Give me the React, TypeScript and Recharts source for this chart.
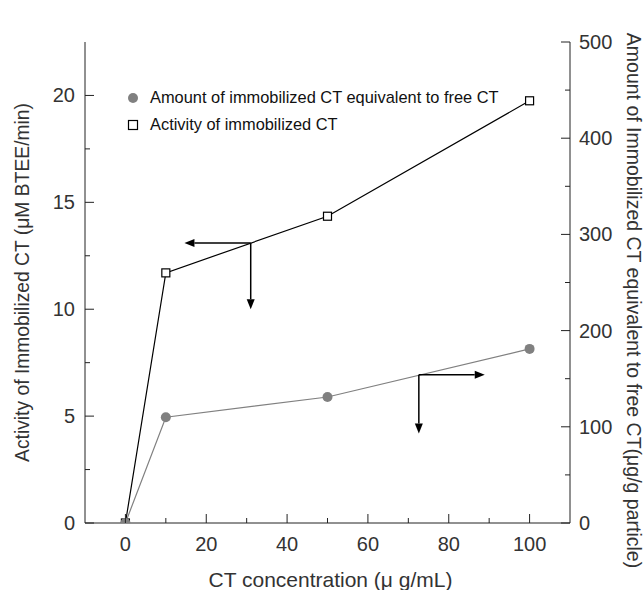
import React from 'react';
import { ComposedChart, Line, XAxis, YAxis, Legend, ReferenceLine, Label } from 'recharts';

// CT concentration (µg/mL)
const concentrations = [0, 10, 50, 100];
// activity of immobilized CT (µM BTEE/min), left axis
const activity = [0, 11.7, 14.35, 19.75];
// immobilized CT equivalent to free CT (µg/g particle), right axis
const amountImmobilized = [0, 110, 131, 181];

const xTicks = [0, 10, 20, 30, 40, 50, 60, 70, 80, 90, 100];
const leftTicks = [0, 2.5, 5, 7.5, 10, 12.5, 15, 17.5, 20];
const rightTicks = [0, 50, 100, 150, 200, 250, 300, 350, 400, 450, 500];

// arrows pointing each curve to its axis
const activityArrowH = [{ x: 31, y: 13.1 }, { x: 14.6, y: 13.1 }];
const activityArrowV = [{ x: 31, y: 13.1 }, { x: 31, y: 10.0 }];
const amountArrowH = [{ x: 72.6, y: 154 }, { x: 88.9, y: 154 }];
const amountArrowV = [{ x: 72.6, y: 154 }, { x: 72.6, y: 93 }];

const FONT = '"Liberation Sans", Arial, sans-serif';
const INK = '#222';
const GREY = '#808080';

const data = concentrations.map((c, i) => ({
  conc: c,
  activity: activity[i],
  amount: amountImmobilized[i],
}));

const tickText = { fontFamily: FONT, fontSize: 20, fill: '#333' };

function BottomTick({ x, y, payload }: any) {
  const major = payload.value % 20 === 0;
  return (
    <g>
      <line x1={x} y1={y} x2={x} y2={y - (major ? 9 : 5)} stroke={INK} />
      {major && (
        <text x={x} y={y + 28} textAnchor="middle" {...tickText}>
          {payload.value}
        </text>
      )}
    </g>
  );
}

function TopTick({ x, y, payload }: any) {
  const major = payload.value % 20 === 0;
  return <line x1={x} y1={y} x2={x} y2={y + (major ? 9 : 5)} stroke={INK} />;
}

function LeftTick({ x, y, payload }: any) {
  const major = payload.value % 5 === 0;
  return (
    <g>
      <line x1={x} y1={y} x2={x + (major ? 9 : 5)} y2={y} stroke={INK} />
      {major && (
        <text x={x - 10} y={y + 7} textAnchor="end" {...tickText}>
          {payload.value}
        </text>
      )}
    </g>
  );
}

function RightTick({ x, y, payload }: any) {
  const major = payload.value % 100 === 0;
  return (
    <g>
      <line x1={x} y1={y} x2={x - (major ? 9 : 5)} y2={y} stroke={INK} />
      {major && (
        <text x={x + 9} y={y + 7} textAnchor="start" {...tickText}>
          {payload.value}
        </text>
      )}
    </g>
  );
}

function Arrow(props: any) {
  const { x1, y1, x2, y2 } = props;
  const dx = x2 - x1;
  const dy = y2 - y1;
  const len = Math.sqrt(dx * dx + dy * dy) || 1;
  const ux = dx / len;
  const uy = dy / len;
  const L = 10;
  const W = 4;
  const bx = x2 - ux * L;
  const by = y2 - uy * L;
  const pts = `${x2},${y2} ${bx - uy * W},${by + ux * W} ${bx + uy * W},${by - ux * W}`;
  return (
    <g>
      <line x1={x1} y1={y1} x2={bx} y2={by} stroke="#000" strokeWidth={1.5} />
      <polygon points={pts} fill="#000" />
    </g>
  );
}

const squareDot = (p: any) => (
  <rect key={`sq-${p.index}`} x={p.cx - 4} y={p.cy - 4} width={8} height={8} fill="#fff" stroke="#000" strokeWidth={1.2} />
);
const circleDot = (p: any) => <circle key={`ci-${p.index}`} cx={p.cx} cy={p.cy} r={5} fill={GREY} />;

function LegendBox() {
  const row = { display: 'flex', alignItems: 'center', height: 27 } as React.CSSProperties;
  const txt = { marginLeft: 11, fontFamily: FONT, fontSize: 16.4, color: '#111', whiteSpace: 'nowrap' } as React.CSSProperties;
  return (
    <div>
      <div style={row}>
        <svg width={12} height={12}>
          <circle cx={6} cy={6} r={5} fill={GREY} />
        </svg>
        <span style={txt}>Amount of immobilized CT equivalent to free CT</span>
      </div>
      <div style={row}>
        <svg width={12} height={12}>
          <rect x={1.5} y={1.5} width={9} height={9} fill="#fff" stroke="#000" strokeWidth={1.2} />
        </svg>
        <span style={txt}>Activity of immobilized CT</span>
      </div>
    </div>
  );
}

const titleStyle = { fontFamily: FONT, fill: '#333' };

export default function App() {
  return (
    <div style={{ position: 'absolute', left: 0, top: 0, background: '#fff' }}>
      <ComposedChart
        width={644}
        height={590}
        data={data}
        margin={{ top: 42, right: 0, bottom: 0, left: 0 }}
        style={{ fontFamily: FONT }}
      >
        <XAxis
          dataKey="conc"
          type="number"
          domain={[-10, 110]}
          ticks={xTicks}
          interval={0}
          height={67}
          tickSize={0}
          tickMargin={0}
          tick={<BottomTick />}
          stroke={INK}
          allowDataOverflow
        >
          <Label
            content={({ viewBox }: any) => (
              <text x={viewBox.x + viewBox.width / 2 + 3} y={viewBox.y + 64} textAnchor="middle" fontSize={21} {...titleStyle}>
                CT concentration (μ g/mL)
              </text>
            )}
          />
        </XAxis>
        <XAxis
          xAxisId="top"
          dataKey="conc"
          type="number"
          orientation="top"
          domain={[-10, 110]}
          ticks={xTicks}
          interval={0}
          height={0}
          tickSize={0}
          tickMargin={0}
          tick={<TopTick />}
          stroke={INK}
          allowDataOverflow
        />
        <YAxis
          yAxisId="left"
          domain={[0, 22.5]}
          ticks={leftTicks}
          interval={0}
          width={85}
          tickSize={0}
          tickMargin={0}
          tick={<LeftTick />}
          stroke={INK}
          allowDataOverflow
        >
          <Label
            content={({ viewBox }: any) => {
              const cx = viewBox.x + 29;
              const cy = viewBox.y + viewBox.height / 2;
              return (
                <text x={cx} y={cy} transform={`rotate(-90, ${cx}, ${cy})`} textAnchor="middle" fontSize={19.3} {...titleStyle}>
                  Activity of Immobilized CT (μM BTEE/min)
                </text>
              );
            }}
          />
        </YAxis>
        <YAxis
          yAxisId="right"
          orientation="right"
          domain={[0, 500]}
          ticks={rightTicks}
          interval={0}
          width={74}
          tickSize={0}
          tickMargin={0}
          tick={<RightTick />}
          stroke={INK}
          allowDataOverflow
        >
          <Label
            content={({ viewBox }: any) => {
              const cx = viewBox.x + 57;
              const cy = viewBox.y + viewBox.height / 2 + 18;
              return (
                <text x={cx} y={cy} transform={`rotate(90, ${cx}, ${cy})`} textAnchor="middle" fontSize={19.5} {...titleStyle}>
                  Amount of Immobilized CT equivalent to free CT(μg/g particle)
                </text>
              );
            }}
          />
        </YAxis>

        <Legend
          layout="vertical"
          align="center"
          verticalAlign="middle"
          content={() => <LegendBox />}
          wrapperStyle={{ left: 127, top: 84, width: 'auto', height: 'auto' }}
        />

        <Line
          yAxisId="left"
          dataKey="activity"
          type="linear"
          stroke="#000"
          strokeWidth={1.2}
          dot={squareDot}
          activeDot={false}
          isAnimationActive={false}
        />
        <Line
          yAxisId="right"
          dataKey="amount"
          type="linear"
          stroke={GREY}
          strokeWidth={1.2}
          dot={circleDot}
          activeDot={false}
          isAnimationActive={false}
        />

        <ReferenceLine yAxisId="left" segment={activityArrowH} shape={(p: any) => <Arrow {...p} />} />
        <ReferenceLine yAxisId="left" segment={activityArrowV} shape={(p: any) => <Arrow {...p} />} />
        <ReferenceLine yAxisId="right" segment={amountArrowH} shape={(p: any) => <Arrow {...p} />} />
        <ReferenceLine yAxisId="right" segment={amountArrowV} shape={(p: any) => <Arrow {...p} />} />
      </ComposedChart>
    </div>
  );
}
